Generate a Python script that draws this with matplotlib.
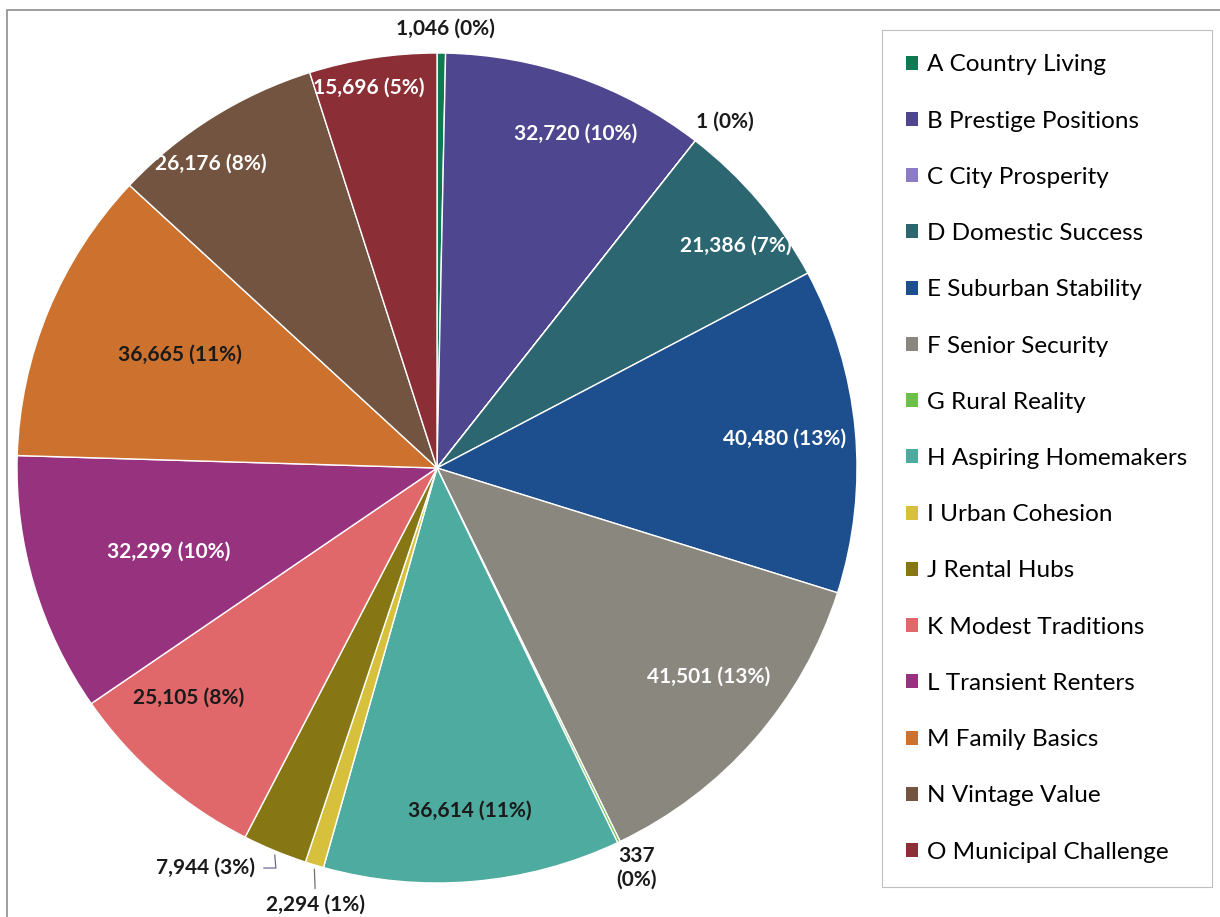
import numpy as np
import matplotlib.pyplot as plt
from matplotlib.patches import Rectangle

plt.rcParams['font.family'] = ['Lato', 'DejaVu Sans']

# segment data
segments = ['A Country Living', 'B Prestige Positions', 'C City Prosperity',
            'D Domestic Success', 'E Suburban Stability', 'F Senior Security',
            'G Rural Reality', 'H Aspiring Homemakers', 'I Urban Cohesion',
            'J Rental Hubs', 'K Modest Traditions', 'L Transient Renters',
            'M Family Basics', 'N Vintage Value', 'O Municipal Challenge']
counts = [1046, 32720, 1, 21386, 40480, 41501, 337, 36614, 2294, 7944,
          25105, 32299, 36665, 26176, 15696]
pct_text = ['0%', '10%', '0%', '7%', '13%', '13%', '0%', '11%', '1%', '3%',
            '8%', '10%', '11%', '8%', '5%']

colors = ['#0f7a52', '#4e468e', '#8c7cc6', '#2c6670', '#1d4e8e', '#8a877f',
          '#6cc04a', '#4dab9f', '#d6c03c', '#877714', '#e0686a', '#97327f',
          '#cd722e', '#735440', '#8c2e36']
text_colors = ['#1a1a1a', 'white', '#1a1a1a', 'white', 'white', 'white',
               '#1a1a1a', '#1a1a1a', '#1a1a1a', '#1a1a1a', '#1a1a1a', 'white',
               '#1a1a1a', 'white', 'white']
# label placement: radius (fraction of pie radius) and angle shift in degrees
label_r = [1.06, 0.87, 1.08, 0.89, 0.83, 0.82, 1.075, 0.83, 1.09, 1.11,
           0.81, 0.67, 0.67, 0.91, 0.93]
label_dt = [0.5, 2.7, 1.5, 3, 0.3, -3, -0.6, -0.5, -1.6, 7, 5.5, -1, 1.7, -4, -1.2]

W, H = 1220, 917
fig = plt.figure(figsize=(W / 100, H / 100), dpi=100)

# outer frame (only top and left visible)
fig.patches.append(Rectangle((7 / W, -0.2), 1.2, 1.2 - 10 / H, transform=fig.transFigure,
                             fill=False, edgecolor='#8c8c8c', linewidth=1.2))

cx, cy, rx, ry = 437, 468, 420, 415
ax = fig.add_axes([(cx - rx) / W, (H - cy - ry) / H, 2 * rx / W, 2 * ry / H])
wedges, _ = ax.pie(counts, colors=colors, startangle=90, counterclock=False,
                   radius=1.0, wedgeprops=dict(edgecolor='white', linewidth=1.0))
ax.set_xlim(-1, 1)
ax.set_ylim(-1, 1)
ax.set_aspect('auto')
ax.axis('off')

total = sum(counts)
cum = np.cumsum([0] + counts)
for i, v in enumerate(counts):
    mid = (cum[i] + v / 2) / total * 360
    th = np.radians(mid + label_dt[i])
    x, y = label_r[i] * np.sin(th), label_r[i] * np.cos(th)
    if segments[i][0] == 'G':
        txt = f'{v:,}\n({pct_text[i]})'
    else:
        txt = f'{v:,} ({pct_text[i]})'
    kw = dict(ha='center', va='center', fontsize=15, fontweight='bold',
              color=text_colors[i], linespacing=1.2)
    if segments[i][0] in ('I', 'J'):
        tm = np.radians(mid)
        ex, ey = np.sin(tm), np.cos(tm)
        if segments[i][0] == 'I':
            ax.annotate(txt, xy=(ex, ey - 0.01), xytext=(x, y), annotation_clip=False,
                        arrowprops=dict(arrowstyle='-', color='#707070', lw=0.9,
                                        shrinkA=2, shrinkB=0), **kw)
        else:
            ax.annotate(txt, xy=(ex, ey - 0.01), xytext=(x, y), annotation_clip=False,
                        arrowprops=dict(arrowstyle='-', color='#6a6a90', lw=0.9,
                                        connectionstyle='angle,angleA=0,angleB=95',
                                        shrinkA=4, shrinkB=0), **kw)
    else:
        ax.text(x, y, txt, clip_on=False, **kw)

leg = fig.legend(wedges, segments, loc='upper left',
                 bbox_to_anchor=(882 / W, 1 - 30 / H), fontsize=17.5,
                 frameon=True, fancybox=False, edgecolor='#b0b0b0',
                 handlelength=0.5, handleheight=0.5, handletextpad=0.35,
                 labelspacing=1.45, borderpad=1.0, borderaxespad=0)
leg.get_frame().set_linewidth(0.8)
for h in leg.legend_handles:
    h.set_edgecolor('none')

fig.savefig('out.png', dpi=100)
